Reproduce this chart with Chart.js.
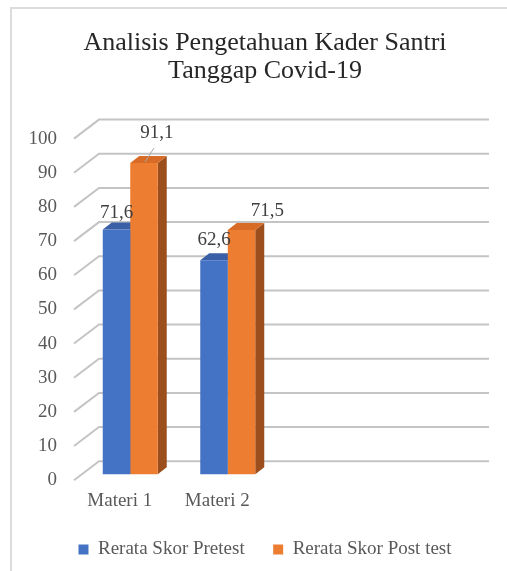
<!DOCTYPE html>
<html>
<head>
<meta charset="utf-8">
<script src="https://cdn.jsdelivr.net/npm/chart.js"></script>
<style>
  html, body { margin: 0; padding: 0; background: #fff; overflow: hidden; }
  body { width: 507px; height: 571px; position: relative; }
  #card { position: absolute; left: 10px; top: 7px; width: 520px; height: 580px;
          border-left: 2px solid #dcdcdc; border-top: 2px solid #dcdcdc; }
  #chart { position: absolute; left: 10px; top: 7px; }
</style>
</head>
<body>
<div id="card"></div>
<canvas id="chart" width="510" height="564"></canvas>
<script>
// data (2 empty slots keep the bars in the left half, like the original)
const categories = ['Materi 1', 'Materi 2', '', ''];
const pretest = [71.6, 62.6, null, null];
const posttest = [91.1, 71.5, null, null];
const seriesNames = ['Rerata Skor Pretest', 'Rerata Skor Post test'];
const yTicks = [0, 10, 20, 30, 40, 50, 60, 70, 80, 90, 100];

const serif = "'Liberation Serif', 'DejaVu Serif', serif";

// fake 3d look, excel style
const wallDx = 25, wallDy = 19;   // depth of the back wall
const barShiftX = 7.5, barShiftY = -6; // bars stand a bit into the floor
const barDx = 9, barDy = 7;       // depth of the bars
const faces = [
  { top: '#3a5fa6', side: '#2f4f8c' },
  { top: '#d86c26', side: '#9c4f1d' }
];
// label nudges [dataset][index] -> [dx, dy], the manual moves from the original
const labelNudge = [[[0, 9], [0, 6]], [[13, -4], [26, 7]]];

const threeD = {
  id: 'threeD',
  beforeDatasetsDraw(chart) {
    const ctx = chart.ctx;
    const y = chart.scales.y;
    const { left, right } = chart.chartArea;
    ctx.save();
    ctx.strokeStyle = '#c4c4c4';
    ctx.lineWidth = 2;
    yTicks.forEach(v => {
      const py = y.getPixelForValue(v);
      ctx.beginPath();
      ctx.moveTo(left, py);
      ctx.lineTo(left + wallDx, py - wallDy);
      ctx.lineTo(right + wallDx, py - wallDy);
      ctx.stroke();
    });
    ctx.restore();

    ctx.save();
    ctx.translate(barShiftX, barShiftY);
    chart.data.datasets.forEach((ds, di) => {
      chart.getDatasetMeta(di).data.forEach((bar, i) => {
        if (ds.data[i] == null) return;
        const x0 = bar.x - bar.width / 2, x1 = bar.x + bar.width / 2;
        // side
        ctx.fillStyle = faces[di].side;
        ctx.beginPath();
        ctx.moveTo(x1, bar.y);
        ctx.lineTo(x1 + barDx, bar.y - barDy);
        ctx.lineTo(x1 + barDx, bar.base - barDy);
        ctx.lineTo(x1, bar.base);
        ctx.closePath();
        ctx.fill();
        // top
        ctx.fillStyle = faces[di].top;
        ctx.beginPath();
        ctx.moveTo(x0, bar.y);
        ctx.lineTo(x1, bar.y);
        ctx.lineTo(x1 + barDx, bar.y - barDy);
        ctx.lineTo(x0 + barDx, bar.y - barDy);
        ctx.closePath();
        ctx.fill();
      });
    });
    // translation stays on while chart.js draws the front faces
  },
  afterDatasetsDraw(chart) {
    const ctx = chart.ctx;
    ctx.restore();
    ctx.save();
    ctx.font = '19px ' + serif;
    ctx.fillStyle = '#404040';
    ctx.textAlign = 'center';
    ctx.textBaseline = 'alphabetic';
    chart.data.datasets.forEach((ds, di) => {
      chart.getDatasetMeta(di).data.forEach((bar, i) => {
        const v = ds.data[i];
        if (v == null) return;
        const n = labelNudge[di][i];
        const bx = bar.x + barShiftX;
        const top = bar.y + barShiftY;
        const lx = bx + n[0], ly = top - 21 + n[1];
        ctx.fillText(v.toFixed(1).replace('.', ','), lx, ly);
        if (n[1] < 0) {
          // leader line
          ctx.strokeStyle = '#a6a6a6';
          ctx.lineWidth = 1;
          ctx.beginPath();
          ctx.moveTo(bx + 1, top - 1);
          ctx.lineTo(lx - 3, ly + 10);
          ctx.stroke();
        }
      });
    });
    ctx.restore();
  }
};

new Chart(document.getElementById('chart'), {
  type: 'bar',
  data: {
    labels: categories,
    datasets: [
      { label: seriesNames[0], data: pretest, backgroundColor: '#4472c4' },
      { label: seriesNames[1], data: posttest, backgroundColor: '#ed7d31' }
    ]
  },
  options: {
    responsive: false,
    animation: false,
    events: [],
    layout: { padding: { left: 0, right: 0, top: 0, bottom: 2 } },
    datasets: { bar: { categoryPercentage: 0.564, barPercentage: 1, clip: false } },
    scales: {
      x: {
        grid: { display: false, drawTicks: false },
        border: { display: false },
        ticks: { color: '#595959', font: { family: serif, size: 19 }, padding: 9, labelOffset: -3 }
      },
      y: {
        min: 0, max: 100,
        grid: { display: false, drawTicks: false },
        border: { display: false },
        ticks: { stepSize: 10, color: '#595959', font: { family: serif, size: 19 }, padding: 17 },
        afterFit(s) { s.width = 64; }
      },
      yRight: {
        position: 'right',
        grid: { display: false, drawTicks: false },
        border: { display: false },
        ticks: { display: false },
        afterFit(s) { s.width = 56; }
      }
    },
    plugins: {
      title: {
        display: true,
        text: ['Analisis Pengetahuan Kader Santri', 'Tanggap Covid-19'],
        color: '#262626',
        font: { family: serif, size: 26, weight: 'normal', lineHeight: 1.05 },
        padding: { top: 23, bottom: 54 }
      },
      legend: {
        position: 'bottom',
        labels: {
          color: '#595959',
          font: { family: serif, size: 19 },
          boxWidth: 10, boxHeight: 10,
          padding: 19,
          generateLabels(chart) {
            // a few trailing spaces widen the gap between the two entries
            const items = Chart.defaults.plugins.legend.labels.generateLabels(chart);
            items[0].text += '  ';
            return items;
          }
        }
      },
      tooltip: { enabled: false }
    }
  },
  plugins: [threeD]
});
</script>
</body>
</html>
